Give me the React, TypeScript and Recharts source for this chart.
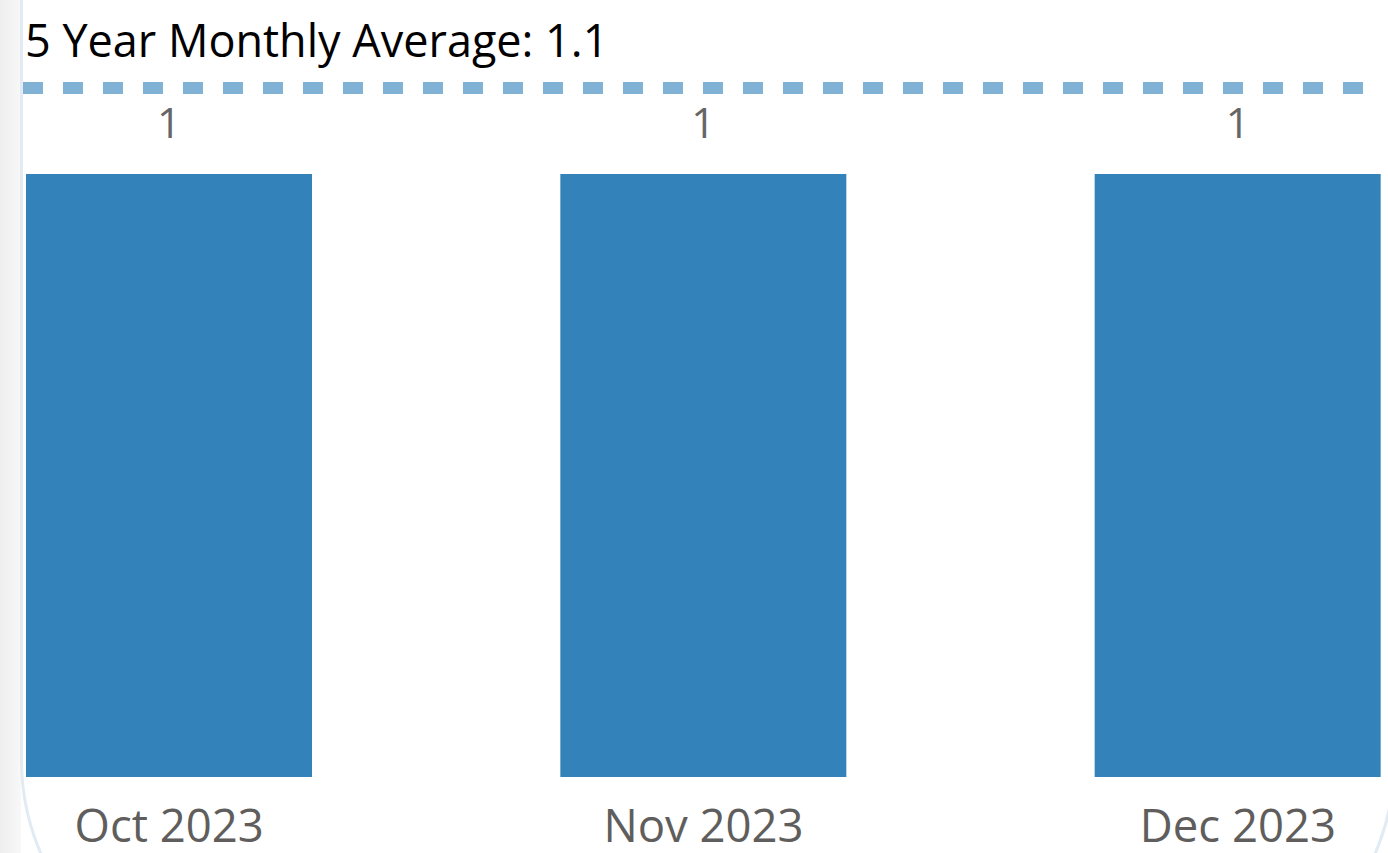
import React from "react";
import { BarChart, Bar, XAxis, YAxis, ReferenceLine, LabelList } from "recharts";

const months = ["Oct 2023", "Nov 2023", "Dec 2023"];
const counts = [1, 1, 1];
const averageLabel = "5 Year Monthly Average: 1.1";
const averageLineLevel = 1.1426;

const data = months.map((m, i) => ({ month: m, count: counts[i] }));

const FONT = "'Open Sans', 'Noto Sans', sans-serif";

const AxisTick = (props: any) => {
  const { x, y, payload } = props;
  return (
    <text x={x} y={y + 65} textAnchor="middle" fill="#605E5C" fontSize={45.5} fontFamily={FONT}>
      {payload.value}
    </text>
  );
};

const AvgLabel = (props: any) => {
  const vb = props.viewBox || {};
  return (
    <text x={vb.x + 2} y={vb.y - 31} fill="#000000" fontSize={45} fontFamily={FONT}>
      {averageLabel}
    </text>
  );
};

export default function App() {
  return (
    <div style={{ position: "fixed", left: 0, top: 0, width: 1388, height: 853, overflow: "hidden", background: "#ffffff" }}>
      <div
        style={{
          position: "absolute",
          left: 0,
          top: 0,
          width: 21,
          height: 853,
          background: "linear-gradient(to right, #eeeeee, #f8f8f8)",
        }}
      />
      <div
        style={{
          position: "absolute",
          left: 20,
          top: -500,
          width: 1376,
          height: 1497,
          border: "3px solid #e2ebf4",
          borderRadius: 237,
          background: "#ffffff",
          boxSizing: "border-box",
        }}
      />
      <div style={{ position: "absolute", left: 0, top: 0 }}>
        <BarChart
          width={1388}
          height={853}
          data={data}
          margin={{ top: 88, left: 23, right: 11, bottom: 0 }}
        >
          <XAxis
            dataKey="month"
            axisLine={false}
            tickLine={false}
            tickSize={0}
            tickMargin={0}
            height={76}
            padding={{ left: -121, right: -128 }}
            tick={<AxisTick />}
            interval={0}
          />
          <YAxis hide domain={[0, averageLineLevel]} />
          <Bar dataKey="count" fill="#3383BA" barSize={286} isAnimationActive={false}>
            <LabelList
              dataKey="count"
              position="top"
              offset={36}
              fill="#666666"
              fontSize={42}
              fontFamily={FONT}
            />
          </Bar>
          <ReferenceLine
            y={averageLineLevel}
            stroke="#80B2D6"
            strokeWidth={12}
            strokeDasharray="20 20"
            ifOverflow="visible"
            label={<AvgLabel />}
          />
        </BarChart>
      </div>
    </div>
  );
}
